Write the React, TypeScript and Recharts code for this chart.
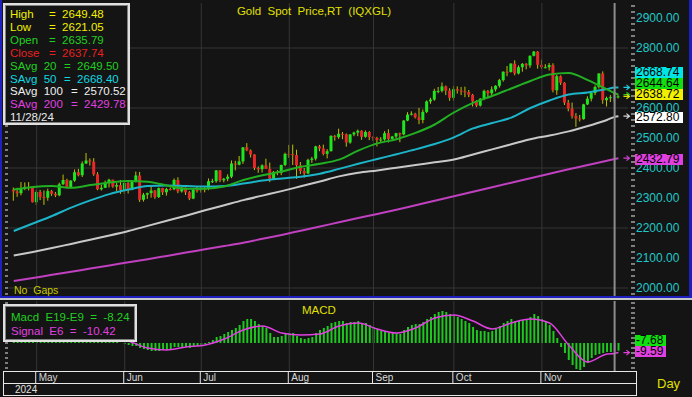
import React from 'react'
import {
  ComposedChart,
  Bar,
  Line,
  XAxis,
  YAxis,
  CartesianGrid,
  ReferenceLine,
  ReferenceDot,
  Cell,
} from 'recharts'

const FONT = '"Liberation Sans", Arial, sans-serif'
const BG = '#141414'
const GRID = '#363636'

// daily candles [open, high, low, close], Apr 23 -> Nov 29 2024
const APR = [
  [2327, 2335, 2291, 2322], [2322, 2334, 2304, 2316], [2316, 2353, 2309, 2332],
  [2332, 2352, 2326, 2337], [2337, 2353, 2325, 2335], [2335, 2336, 2285, 2286],
]
const MAY = [
  [2286, 2326, 2277, 2320], [2320, 2327, 2293, 2303], [2303, 2325, 2277, 2301],
  [2301, 2331, 2291, 2323], [2323, 2327, 2307, 2314], [2314, 2320, 2303, 2309],
  [2309, 2351, 2306, 2346], [2346, 2378, 2343, 2360], [2360, 2364, 2334, 2336],
  [2336, 2359, 2332, 2358], [2358, 2395, 2354, 2386], [2386, 2397, 2372, 2376],
  [2376, 2422, 2370, 2415], [2415, 2450, 2413, 2425], [2425, 2432, 2408, 2421],
  [2421, 2433, 2374, 2379], [2379, 2386, 2326, 2329], [2329, 2344, 2325, 2334],
  [2334, 2358, 2333, 2351], [2351, 2364, 2335, 2361], [2361, 2361, 2334, 2338],
  [2338, 2351, 2323, 2343], [2343, 2360, 2314, 2327],
]
const JUN = [
  [2327, 2354, 2314, 2350], [2350, 2353, 2315, 2327], [2327, 2359, 2326, 2355],
  [2355, 2388, 2352, 2375], [2375, 2387, 2287, 2294], [2294, 2317, 2288, 2311],
  [2311, 2318, 2297, 2316], [2316, 2342, 2301, 2325], [2325, 2327, 2297, 2303],
  [2303, 2335, 2300, 2333], [2333, 2334, 2310, 2319], [2319, 2334, 2308, 2330],
  [2330, 2335, 2325, 2329], [2329, 2365, 2326, 2360], [2360, 2369, 2316, 2322],
  [2322, 2337, 2318, 2334], [2334, 2335, 2310, 2319], [2319, 2323, 2293, 2298],
  [2298, 2331, 2296, 2327], [2327, 2338, 2318, 2326],
]
const JUL = [
  [2326, 2338, 2318, 2332], [2332, 2336, 2319, 2330], [2330, 2365, 2326, 2356],
  [2356, 2364, 2350, 2356], [2356, 2393, 2351, 2392], [2392, 2393, 2353, 2359],
  [2359, 2367, 2352, 2364], [2364, 2379, 2356, 2371], [2371, 2425, 2366, 2415],
  [2415, 2424, 2392, 2411], [2411, 2440, 2409, 2422], [2422, 2469, 2414, 2469],
  [2469, 2483, 2456, 2459], [2459, 2462, 2435, 2445], [2445, 2446, 2393, 2400],
  [2400, 2405, 2384, 2396], [2396, 2412, 2385, 2409], [2409, 2431, 2397, 2397],
  [2397, 2418, 2353, 2364], [2364, 2390, 2364, 2387], [2387, 2393, 2376, 2384],
  [2384, 2411, 2376, 2410], [2410, 2451, 2406, 2447],
]
const AUG = [
  [2447, 2477, 2434, 2446], [2446, 2478, 2410, 2443], [2443, 2461, 2364, 2409],
  [2409, 2420, 2380, 2390], [2390, 2400, 2368, 2382], [2382, 2431, 2380, 2427],
  [2427, 2437, 2417, 2431], [2431, 2474, 2425, 2472], [2472, 2477, 2456, 2465],
  [2465, 2478, 2442, 2447], [2447, 2463, 2432, 2456], [2456, 2509, 2455, 2507],
  [2507, 2510, 2491, 2503], [2503, 2531, 2497, 2514], [2514, 2520, 2496, 2512],
  [2512, 2515, 2471, 2485], [2485, 2513, 2481, 2512], [2512, 2521, 2506, 2518],
  [2518, 2528, 2506, 2524], [2524, 2526, 2494, 2504], [2504, 2525, 2501, 2520],
  [2520, 2523, 2493, 2503],
]
const SEP = [
  [2503, 2506, 2490, 2500], [2500, 2504, 2472, 2493], [2493, 2503, 2484, 2495],
  [2495, 2523, 2491, 2516], [2516, 2529, 2485, 2497], [2497, 2507, 2495, 2505],
  [2505, 2517, 2499, 2516], [2516, 2518, 2486, 2512], [2512, 2560, 2509, 2558],
  [2558, 2586, 2556, 2578], [2578, 2589, 2575, 2581], [2581, 2584, 2565, 2569],
  [2569, 2600, 2546, 2560], [2560, 2595, 2549, 2587], [2587, 2625, 2583, 2622],
  [2622, 2634, 2614, 2628], [2628, 2664, 2624, 2657], [2657, 2670, 2649, 2657],
  [2657, 2685, 2652, 2672], [2672, 2675, 2643, 2658], [2658, 2666, 2624, 2634],
]
const OCT = [
  [2634, 2673, 2625, 2663], [2663, 2672, 2648, 2658], [2658, 2670, 2643, 2656],
  [2656, 2671, 2636, 2653], [2653, 2660, 2636, 2644], [2644, 2647, 2605, 2622],
  [2622, 2626, 2603, 2608], [2608, 2633, 2605, 2631], [2631, 2661, 2626, 2657],
  [2657, 2660, 2633, 2649], [2649, 2672, 2642, 2662], [2662, 2676, 2655, 2674],
  [2674, 2697, 2668, 2693], [2693, 2722, 2688, 2721], [2721, 2740, 2706, 2720],
  [2720, 2749, 2718, 2748], [2748, 2759, 2709, 2715], [2715, 2742, 2712, 2736],
  [2736, 2750, 2721, 2747], [2747, 2750, 2729, 2742], [2742, 2775, 2734, 2774],
  [2774, 2790, 2772, 2788], [2788, 2790, 2731, 2744],
]
const NOV = [
  [2744, 2761, 2730, 2736], [2736, 2746, 2732, 2736], [2736, 2750, 2725, 2743],
  [2743, 2749, 2652, 2659], [2659, 2711, 2644, 2706], [2706, 2709, 2677, 2684],
  [2684, 2686, 2610, 2618], [2618, 2627, 2589, 2598], [2598, 2618, 2565, 2573],
  [2573, 2583, 2537, 2565], [2565, 2577, 2555, 2563], [2563, 2614, 2561, 2612],
  [2612, 2639, 2610, 2631], [2631, 2656, 2622, 2650], [2650, 2675, 2643, 2670],
  [2670, 2716, 2665, 2715], [2715, 2722, 2614, 2626], [2626, 2638, 2605, 2633],
  [2633, 2643, 2620, 2636], [2635.79, 2649.48, 2621.05, 2637.74], [2637.74, 2643, 2632, 2638.72],
]

// MACD E19-E9 histogram, one value per bar
const MACD_APR = [15, 12, 11, 10, 9, 5]
const MACD_MAY = [3, 2, 1, 1, 1, 2, 3, 3, 4, 6, 7, 9, 11, 12, 10, 7, 5, 4, 4, 3, 2, 1, 0]
const MACD_JUN = [-1, -2, -3, -3, -5, -6, -7, -8, -8, -8, -7, -7, -6, -4, -4, -4, -4, -5, -4, -3]
const MACD_JUL = [-2, -1, 1, 3, 6, 7, 9, 11, 13, 15, 18, 22, 24, 24, 22, 19, 17, 15, 10, 6, 6, 7, 10]
const MACD_AUG = [10, 10, 7, 5, 4, 5, 6, 10, 13, 15, 17, 20, 21, 22, 22, 20, 21, 21, 22, 20, 20, 18]
const MACD_SEP = [16, 14, 12, 12, 10, 10, 10, 9, 13, 16, 18, 19, 19, 21, 24, 26, 29, 31, 32, 31, 29]
const MACD_OCT = [28, 26, 24, 22, 20, 16, 13, 12, 12, 11, 12, 14, 17, 20, 22, 24, 22, 22, 23, 23, 26, 29, 27]
const MACD_NOV = [24, 22, 18, 12, 5, -4, -10, -17, -22, -26, -27, -24, -20, -15, -12, -11, -10, -9, -9, -8.24, -7.68]

// moving averages and signal line, read at these bars
const MA_IDX = [0, 5, 10, 15, 20, 25, 30, 35, 40, 45, 50, 55, 60, 65, 70, 75, 80, 85, 90, 95, 100, 105, 110, 115, 120, 125, 130, 135, 140, 145, 150, 155, 157, 158]
const SMA20 = [2328, 2337, 2340, 2334, 2343, 2352, 2357, 2354, 2342, 2331, 2331, 2338, 2360, 2376, 2388, 2404, 2414, 2428, 2458, 2482, 2496, 2517, 2545, 2585, 2617, 2640, 2665, 2690, 2712, 2717, 2693, 2662, 2649.5, 2644.64]
const SMA50 = [2190, 2215, 2240, 2268, 2292, 2313, 2328, 2340, 2342, 2340, 2338, 2340, 2348, 2358, 2365, 2371, 2381, 2397, 2414, 2430, 2446, 2462, 2480, 2502, 2532, 2550, 2568, 2600, 2625, 2645, 2652, 2663, 2668.4, 2668.74]
const SMA100 = [2108, 2120, 2133, 2147, 2161, 2175, 2190, 2207, 2224, 2241, 2259, 2276, 2293, 2308, 2323, 2339, 2355, 2372, 2384, 2392, 2401, 2410, 2419, 2428, 2445, 2462, 2479, 2496, 2508, 2522, 2540, 2560, 2570.52, 2572.8]
const SMA200 = [2023, 2033, 2044, 2054, 2065, 2075, 2086, 2096, 2107, 2118, 2129, 2140, 2151, 2164, 2177, 2191, 2205, 2219, 2233, 2247, 2261, 2276, 2291, 2306, 2321, 2336, 2351, 2366, 2381, 2396, 2410, 2424, 2429.78, 2432.79]
const SIGNAL = [12, 9, 4, 3, 6, 7, 2, -5, -7, -4, -2, 4, 13, 17, 10, 8, 9, 17, 20, 14, 10, 15, 25, 28, 22, 14, 20, 24, 20, -2, -19, -11, -10.42, -9.59]

const MONTHS = ['May', 'Jun', 'Jul', 'Aug', 'Sep', 'Oct', 'Nov']
const MONTH_START = [6, 29, 49, 72, 94, 115, 138]
const PRICE_TICKS = [1980, 2000, 2020, 2040, 2060, 2080, 2100, 2120, 2140, 2160, 2180, 2200, 2220, 2240, 2260, 2280, 2300, 2320, 2340, 2360, 2380, 2400, 2420, 2440, 2460, 2480, 2500, 2520, 2540, 2560, 2580, 2600, 2620, 2640, 2660, 2680, 2700, 2720, 2740, 2760, 2780, 2800, 2820, 2840, 2860, 2880, 2900, 2920, 2940]
const PRICE_GRID = [2000, 2200, 2400, 2600, 2800]
const MACD_TICKS = [-25, -20, -15, -10, -5, 0, 5, 10, 15, 20, 25, 30, 35, 40]
const CURSOR = 157
const LAST = 158

const LAST_VALUES = [
  { v: 2668.74, bg: '#00e6e6', arrow: '#20d0e0' },
  { v: 2644.64, bg: '#10e010', arrow: '#20c020' },
  { v: 2638.72, bg: '#f0f000', arrow: '#e0e000' },
  { v: 2572.8, bg: '#ffffff', arrow: '#d8d8d8' },
  { v: 2432.79, bg: '#e040e0', arrow: '#d040d0' },
]

const LEGEND = [
  { label: 'High', w: 39, value: '2649.48', color: '#f0f000' },
  { label: 'Low', w: 39, value: '2621.05', color: '#f0f000' },
  { label: 'Open', w: 39, value: '2635.79', color: '#20d020' },
  { label: 'Close', w: 39, value: '2637.74', color: '#e82020' },
  { label: 'SAvg  20', w: 54, value: '2649.50', color: '#20d020' },
  { label: 'SAvg  50', w: 54, value: '2668.40', color: '#10d8e0' },
  { label: 'SAvg  100', w: 61, value: '2570.52', color: '#f0f0f0' },
  { label: 'SAvg  200', w: 61, value: '2429.78', color: '#e040e0' },
]

const BARS = [...APR, ...MAY, ...JUN, ...JUL, ...AUG, ...SEP, ...OCT, ...NOV]
const MACD = [...MACD_APR, ...MACD_MAY, ...MACD_JUN, ...MACD_JUL, ...MACD_AUG, ...MACD_SEP, ...MACD_OCT, ...MACD_NOV]
const MA_POS = new Map(MA_IDX.map((b, k) => [b, k]))

type Row = {
  i: number
  range: [number, number] | null
  o?: number
  h?: number
  l?: number
  c?: number
  macd: number | null
  sma20: number | null
  sma50: number | null
  sma100: number | null
  sma200: number | null
  signal: number | null
}

const rows: Row[] = []
for (let i = -1; i <= 160; i++) {
  const b = BARS[i]
  const k = MA_POS.get(i)
  rows.push({
    i,
    range: b ? [b[2], b[1]] : null,
    o: b?.[0],
    h: b?.[1],
    l: b?.[2],
    c: b?.[3],
    macd: MACD[i] ?? null,
    sma20: k != null ? SMA20[k] : null,
    sma50: k != null ? SMA50[k] : null,
    sma100: k != null ? SMA100[k] : null,
    sma200: k != null ? SMA200[k] : null,
    signal: k != null ? SIGNAL[k] : null,
  })
}

const P_MIN = 1973.33
const P_MAX = 2950

function Candle(props: any) {
  const { x, y, width, height, payload } = props
  if (!payload || payload.o == null) return null
  const top = Math.min(y, y + height)
  const span = Math.abs(height)
  const k = span / (payload.h - payload.l)
  const bt = top + (payload.h - Math.max(payload.o, payload.c)) * k
  const bb = top + (payload.h - Math.min(payload.o, payload.c)) * k
  const cx = x + width / 2
  let fill = payload.c >= payload.o ? '#1ee61e' : '#e82828'
  if (payload.i === CURSOR) fill = '#2828c8'
  return (
    <g>
      <line x1={cx} x2={cx} y1={top} y2={top + span} stroke="#c0c000" strokeWidth={1} />
      <rect x={x} y={bt} width={width} height={Math.max(1, bb - bt)} fill={fill} />
    </g>
  )
}

function RightTick({ x, y, payload, labels }: any) {
  const v = payload.value
  const major = labels && v % 100 === 0
  return (
    <g>
      <line x1={x + 3} x2={x + 7} y1={y} y2={y} stroke="#e8e8e8" />
      {major && (
        <text x={x + 8} y={y + 4.5} fill="#20c8c8" fontSize={12} fontFamily={FONT}>
          {v.toFixed(2)}
        </text>
      )}
    </g>
  )
}

function LeftTick({ x, y }: any) {
  return <line x1={x - 3} x2={x} y1={y} y2={y} stroke="#e8e8e8" />
}

function MonthTick({ x, y, payload }: any) {
  const n = MONTH_START.indexOf(payload.value)
  return (
    <g>
      <line x1={x - 1} x2={x - 1} y1={y} y2={y + 12} stroke="#e8e8e8" />
      <text x={x + 2} y={y + 10} fill="#d8d8d8" fontSize={10} fontFamily={FONT}>
        {MONTHS[n]}
      </text>
    </g>
  )
}

const arrow = (color: string) => (p: any) => (
  <path
    d={`M${p.cx + 5},${p.cy} h6 M${p.cx + 8},${p.cy - 2.5} l3,2.5 l-3,2.5`}
    stroke={color}
    strokeWidth={1.2}
    fill="none"
  />
)

const lbl = (style: React.CSSProperties, text: string) => (
  <div style={{ position: 'absolute', fontFamily: FONT, whiteSpace: 'pre', ...style }}>{text}</div>
)

export default function App() {
  return (
    <div style={{ position: 'absolute', left: 0, top: 0, width: 692, height: 397, background: BG, overflow: 'hidden' }}>
      <div style={{ position: 'absolute', left: 0, top: 0 }}>
        <ComposedChart width={692} height={296} data={rows} margin={{ top: 3, right: 0, bottom: 0, left: 0 }}>
          <XAxis dataKey="i" type="category" hide />
          <YAxis
            orientation="right"
            width={64}
            domain={[P_MIN, P_MAX]}
            allowDataOverflow
            ticks={PRICE_TICKS}
            interval={0}
            tick={<RightTick labels />}
            tickSize={0}
            tickMargin={0}
            axisLine={false}
            tickLine={false}
          />
          <YAxis
            yAxisId="l"
            orientation="left"
            width={8}
            domain={[P_MIN, P_MAX]}
            allowDataOverflow
            ticks={PRICE_TICKS}
            interval={0}
            tick={<LeftTick />}
            tickSize={0}
            tickMargin={0}
            axisLine={false}
            tickLine={false}
          />
          <CartesianGrid vertical={false} horizontalValues={PRICE_GRID} stroke={GRID} />
          {MONTH_START.map(m => (
            <ReferenceLine key={m} x={m} stroke={GRID} />
          ))}
          <Line dataKey="sma200" type="monotone" connectNulls stroke="#c040c0" strokeWidth={2} dot={false} isAnimationActive={false} />
          <Line dataKey="sma100" type="monotone" connectNulls stroke="#c8c8c8" strokeWidth={2} dot={false} isAnimationActive={false} />
          <Line dataKey="sma50" type="monotone" connectNulls stroke="#1cb4c8" strokeWidth={2} dot={false} isAnimationActive={false} />
          <Line dataKey="sma20" type="monotone" connectNulls stroke="#22b022" strokeWidth={2} dot={false} isAnimationActive={false} />
          <Bar dataKey="range" barSize={3} shape={Candle} isAnimationActive={false} />
          <ReferenceLine x={CURSOR} stroke="#8c8c8c" strokeWidth={2} />
          {LAST_VALUES.map(d => (
            <ReferenceDot key={d.v} x={LAST} y={d.v} r={0} shape={arrow(d.arrow)} />
          ))}
        </ComposedChart>
      </div>

      <div style={{ position: 'absolute', left: 0, top: 300 }}>
        <ComposedChart width={692} height={83} data={rows} margin={{ top: 1, right: 0, bottom: 0, left: 0 }}>
          <XAxis
            dataKey="i"
            type="category"
            height={12}
            ticks={MONTH_START}
            interval={0}
            tick={<MonthTick />}
            tickSize={0}
            tickMargin={0}
            axisLine={false}
            tickLine={false}
          />
          <YAxis
            orientation="right"
            width={64}
            domain={[-28, 42]}
            allowDataOverflow
            ticks={MACD_TICKS}
            interval={0}
            tick={<RightTick />}
            tickSize={0}
            tickMargin={0}
            axisLine={false}
            tickLine={false}
          />
          <YAxis
            yAxisId="l"
            orientation="left"
            width={8}
            domain={[-28, 42]}
            allowDataOverflow
            ticks={MACD_TICKS}
            interval={0}
            tick={<LeftTick />}
            tickSize={0}
            tickMargin={0}
            axisLine={false}
            tickLine={false}
          />
          {MONTH_START.map(m => (
            <ReferenceLine key={m} x={m} stroke={GRID} />
          ))}
          <Bar dataKey="macd" barSize={2} isAnimationActive={false}>
            {rows.map(r => (
              <Cell key={r.i} fill={r.i === CURSOR ? '#b020c0' : '#1ec81e'} />
            ))}
          </Bar>
          <Line dataKey="signal" type="monotone" connectNulls stroke="#e040e0" strokeWidth={1.5} dot={false} isAnimationActive={false} />
          <ReferenceLine x={CURSOR} stroke="#8c8c8c" strokeWidth={2} />
          <ReferenceDot x={LAST} y={-9.59} r={0} shape={arrow('#e040e0')} />
        </ComposedChart>
      </div>

      {/* frames */}
      <div style={{ position: 'absolute', left: 0, top: 0, width: 692, height: 298, boxSizing: 'border-box', borderLeft: '2px solid #2020c0', borderRight: '3px solid #2020c0', borderBottom: '2px solid #2020c0' }} />
      <div style={{ position: 'absolute', left: 0, top: 298, width: 692, height: 2, background: '#c8c8c8' }} />
      <div style={{ position: 'absolute', left: 3, top: 371, width: 633, height: 1, background: '#e8e8e8' }} />
      <div style={{ position: 'absolute', left: 3, top: 383, width: 633, height: 1, background: '#e8e8e8' }} />
      <div style={{ position: 'absolute', left: 3, top: 371, width: 1, height: 25, background: '#e8e8e8' }} />
      <div style={{ position: 'absolute', left: 636, top: 371, width: 1, height: 25, background: '#e8e8e8' }} />
      <div style={{ position: 'absolute', left: 3, top: 395, width: 633, height: 1, background: '#e8e8e8' }} />

      {/* price legend */}
      <div style={{ position: 'absolute', left: 3, top: 3, width: 127, height: 122, boxSizing: 'border-box', border: '2px solid #e0e0e0', boxShadow: 'inset 0 0 0 1px #808080', background: BG }}>
        <div style={{ position: 'absolute', left: 5, top: 3, fontFamily: FONT, fontSize: 11.5, lineHeight: '12.9px', whiteSpace: 'pre' }}>
          {LEGEND.map(r => (
            <div key={r.label} style={{ color: r.color }}>
              <span style={{ display: 'inline-block', width: r.w }}>{r.label}</span>
              {'=  ' + r.value}
            </div>
          ))}
          <div style={{ color: '#e8e8e8' }}>11/28/24</div>
        </div>
      </div>

      {lbl({ left: 0, width: 628, top: 5, textAlign: 'center', fontSize: 11.5, color: '#e0e000' }, 'Gold  Spot  Price,RT  (IQXGL)')}
      {lbl({ left: 14, top: 284, fontSize: 10.5, color: '#c8c800' }, 'No  Gaps')}

      {/* last value boxes */}
      {LAST_VALUES.map((d, n) => (
        <div
          key={d.v}
          style={{
            position: 'absolute',
            left: 635,
            top: [67, 78, 89, 112, 154][n],
            width: 47,
            height: 10.5,
            background: d.bg,
            color: '#000',
            fontFamily: FONT,
            fontSize: 12,
            lineHeight: '11px',
            paddingLeft: 1,
          }}
        >
          {d.v.toFixed(2)}
        </div>
      ))}

      {/* MACD legend */}
      <div style={{ position: 'absolute', left: 3, top: 304, width: 134, height: 38, boxSizing: 'border-box', border: '2px solid #e0e0e0', boxShadow: 'inset 0 0 0 1px #808080', background: BG }}>
        {lbl({ left: 6, top: 5, fontSize: 11.5, color: '#20d020' }, 'Macd  E19-E9  =  -8.24')}
        {lbl({ left: 6, top: 19, fontSize: 11.5, color: '#e040e0' }, 'Signal  E6  =  -10.42')}
      </div>
      {lbl({ left: 302, top: 304, fontSize: 11.5, color: '#e0e000' }, 'MACD')}
      {[
        { t: '-7.68', bg: '#10e010', top: 335 },
        { t: '-9.59', bg: '#e040e0', top: 346 },
      ].map(b => (
        <div key={b.t} style={{ position: 'absolute', left: 635, top: b.top, width: 30, height: 10.5, background: b.bg, color: '#000', fontFamily: FONT, fontSize: 12, lineHeight: '11px', paddingLeft: 1 }}>
          {b.t}
        </div>
      ))}

      {lbl({ left: 15, top: 384, fontSize: 10, color: '#e0e0e0' }, '2024')}
      {lbl({ left: 657, top: 376, fontSize: 13, color: '#e0e000' }, 'Day')}
    </div>
  )
}
